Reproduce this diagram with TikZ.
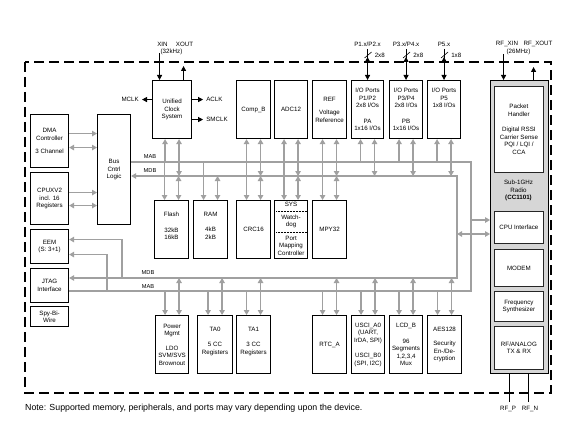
\documentclass[tikz,border=0pt]{standalone}
\usepackage{fontspec}
\setmainfont{Liberation Sans}
\usetikzlibrary{arrows.meta,calc}
\definecolor{busgray}{RGB}{160,160,160}
\definecolor{radiogray}{RGB}{214,214,214}
\tikzset{
  gtip/.tip={Triangle[length=5pt,width=5.5pt]},
  ktip/.tip={Triangle[length=5pt,width=5pt]},
}
\begin{document}
\begin{tikzpicture}[x=1pt,y=-1pt,
  font=\fontsize{6.2}{7.5}\selectfont,
  blk/.style={draw=black,line width=1.1pt,fill=white,inner sep=0pt,align=center,anchor=north west},
  rblk/.style={draw=black!85,line width=0.8pt,fill=white,inner sep=0pt,align=center,anchor=north west,minimum width=49pt},
  txt/.style={inner sep=0pt,align=center},
  bus/.style={draw=busgray,line width=1.8pt},
  barrow/.style={bus,-gtip},
  bdarrow/.style={bus,gtip-gtip},
  kline/.style={draw=black,line width=1pt},
]
\useasboundingbox (0,0) rectangle (561,422);
\fill[white] (0,0) rectangle (561,422);
\draw[line width=1.6pt,dash pattern=on 10pt off 5pt] (25,62) rectangle (551,393);

% left column
\node[blk,minimum width=38pt,minimum height=53pt] (dma) at (30,114) {DMA\\Controller\\[6pt]3 Channel};
\node[blk,minimum width=33pt,minimum height=110pt] (bus) at (97,114) {Bus\\Cntrl\\Logic};
\node[blk,minimum width=38pt,minimum height=52pt] (cpu) at (30,172) {CPUXV2\\incl. 16\\Registers};
\node[blk,minimum width=38pt,minimum height=34pt] (eem) at (30,229) {EEM\\(S: 3+1)};
\node[blk,minimum width=38pt,minimum height=34pt] (jtag) at (30,268) {JTAG\\Interface};
\node[blk,minimum width=38pt,minimum height=20pt] (spy) at (30,306) {Spy-Bi-\\Wire};

% top row
\node[blk,minimum width=39pt,minimum height=58pt] (clk) at (152,80) {Unified\\Clock\\System};
\node[blk,minimum width=34pt,minimum height=58pt] (compb) at (236,80) {Comp\_B};
\node[blk,minimum width=33pt,minimum height=58pt] (adc) at (274,80) {ADC12};
\node[blk,minimum width=34pt,minimum height=58pt] (ref) at (312,80) {REF\\[6pt]Voltage\\Reference};
\node[blk,minimum width=32pt,minimum height=58pt] (pa) at (351,80) {I/O Ports\\P1/P2\\2x8 I/Os\\[8pt]PA\\1x16 I/Os};
\node[blk,minimum width=33pt,minimum height=58pt] (pb) at (389,80) {I/O Ports\\P3/P4\\2x8 I/Os\\[8pt]PB\\1x16 I/Os};
\node[blk,minimum width=33pt,minimum height=58pt] (p5) at (427,80) {I/O Ports\\P5\\1x8 I/Os\\[8pt]\phantom{PA}\\\phantom{1x16 I/Os}};

% middle row
\node[blk,minimum width=34pt,minimum height=58pt] (flash) at (154,200) {Flash\\[8pt]32kB\\16kB\\\phantom{x}};
\node[blk,minimum width=34pt,minimum height=58pt] (ram) at (193,200) {RAM\\[8pt]4kB\\2kB\\\phantom{x}};
\node[blk,minimum width=34pt,minimum height=58pt] (crc) at (236,200) {CRC16};
\node[blk,minimum width=33pt,minimum height=58pt] (sys) at (274,200) {};
\node[blk,minimum width=34pt,minimum height=58pt] (mpy) at (312,200) {MPY32};
\node[txt] (sysa) at ($(sys.north)+(0,4.5)$) {SYS};
\draw[densely dotted,line width=0.5pt] ($(sys.north west)+(2,11)$) -- ($(sys.north east)+(-2,11)$);
\node[txt] (sysb) at ($(sys.north)+(0,21.5)$) {Watch-\\dog};
\draw[densely dotted,line width=0.5pt] ($(sys.north west)+(2,32)$) -- ($(sys.north east)+(-2,32)$);
\node[txt] (sysc) at ($(sys.north)+(0,45.5)$) {Port\\Mapping\\Controller};

% bottom row
\node[blk,minimum width=33pt,minimum height=58pt] (pwr) at (155,315) {Power\\Mgmt\\[7pt]LDO\\SVM/SVS\\Brownout};
\node[blk,minimum width=35pt,minimum height=58pt] (ta0) at (197,315) {TA0\\[8pt]5 CC\\Registers\\\phantom{x}};
\node[blk,minimum width=34pt,minimum height=58pt] (ta1) at (236,315) {TA1\\[8pt]3 CC\\Registers\\\phantom{x}};
\node[blk,minimum width=34pt,minimum height=58pt] (rtc) at (312,315) {RTC\_A};
\node[blk,minimum width=33pt,minimum height=58pt] (usci) at (351,315) {USCI\_A0\\(UART,\\IrDA, SPI)\\[8pt]USCI\_B0\\(SPI, I2C)};
\node[blk,minimum width=33pt,minimum height=58pt] (lcd) at (389,315) {LCD\_B\\[8pt]96\\Segments\\1,2,3,4\\Mux};
\node[blk,minimum width=34pt,minimum height=58pt] (aes) at (427,315) {AES128\\[7pt]Security\\En-/De-\\cryption};

% radio
\node[blk,fill=radiogray,minimum width=58pt,minimum height=293pt] (radio) at (490,80) {};
\node[rblk,minimum height=86pt] (ph) at (494,86) {Packet\\Handler\\[8pt]Digital RSSI\\Carrier Sense\\PQI / LQI /\\CCA};
\node[txt] (sub) at (518.5,190.5) {Sub-1GHz\\Radio\\\textbf{(CC1101)}};
\node[rblk,minimum height=32pt] (cpuif) at (494,211) {CPU Interface};
\node[rblk,minimum height=37pt] (modem) at (494,249) {MODEM};
\node[rblk,minimum height=30pt] (freq) at (494,291) {Frequency\\Synthesizer};
\node[rblk,minimum height=43pt] (rfa) at (494,326) {RF/ANALOG\\TX \& RX};

% buses
\coordinate (mabT) at (0,162);
\coordinate (mdbT) at (0,176);
\coordinate (mdbB) at (0,278);
\coordinate (mabB) at (0,291);
\coordinate (mabR) at (471,0);
\coordinate (mdbR) at (457,0);
\draw[bus] (bus.east |- mabT) -- (mabR |- mabT) -- (mabR |- mabB) -- (jtag.east |- mabB);
\draw[bdarrow] (bus.east |- mdbT) -- (mdbR |- mdbT) -- (mdbR |- mdbB) -- (jtag.east |- mdbB);
\node[txt,font=\fontsize{5.7}{6}\selectfont] (lmab1) at (150,157) {MAB};
\node[txt,font=\fontsize{5.7}{6}\selectfont] (lmdb1) at (150,171) {MDB};
\node[txt,font=\fontsize{5.7}{6}\selectfont] (lmdb2) at (148,273) {MDB};
\node[txt,font=\fontsize{5.7}{6}\selectfont] (lmab2) at (148,287) {MAB};

% DMA / CPU to bus logic
\draw[barrow] ([yshift=7.5pt]dma.east) -- ([yshift=7.5pt]dma.east -| bus.west);
\draw[bdarrow] ([yshift=-6.5pt]dma.east) -- ([yshift=-6.5pt]dma.east -| bus.west);
\draw[barrow] ([yshift=6pt]cpu.east) -- ([yshift=6pt]cpu.east -| bus.west);
\draw[bdarrow] ([yshift=-7pt]cpu.east) -- ([yshift=-7pt]cpu.east -| bus.west);

% EEM
\coordinate (e1) at (122,0);
\coordinate (e2) at (107,0);
\coordinate (eemA) at ([yshift=7pt]eem.east);
\coordinate (eemB) at ([yshift=-8pt]eem.east);
\draw[barrow] (e1 |- mdbB) -- (e1 |- eemA) -- (eemA);
\draw[barrow] (e2 |- mabB) -- (e2 |- eemB) -- (eemB);

% radio bus arrows
\coordinate (rA) at (490,220);
\coordinate (rB) at (490,234);
\draw[barrow] (mabR |- rA) -- (rA);
\draw[bdarrow] (mdbR |- rB) -- (rB);

% bus taps
\foreach \n in {clk,compb,adc,ref,pa,pb,p5}{
  \draw[barrow] ([xshift=-7pt]\n.south |- mabT) -- ([xshift=-7pt]\n.south);
  \draw[bdarrow] ([xshift=7pt]\n.south |- mdbT) -- ([xshift=7pt]\n.south);
}
\foreach \n in {flash,ram,crc,sys,mpy}{
  \draw[barrow] ([xshift=-7pt]\n.north |- mabT) -- ([xshift=-7pt]\n.north);
  \draw[bdarrow] ([xshift=7pt]\n.north |- mdbT) -- ([xshift=7pt]\n.north);
}
\foreach \n in {pwr,ta0,ta1,rtc,usci,lcd,aes}{
  \draw[barrow] ([xshift=-7pt]\n.north |- mabB) -- ([xshift=-7pt]\n.north);
  \draw[bdarrow] ([xshift=7pt]\n.north |- mdbB) -- ([xshift=7pt]\n.north);
}

% clock signals
\draw[kline,-ktip] ([xshift=-12.5pt,yshift=27pt]clk.north) -- ([xshift=-12.5pt]clk.north);
\draw[kline,-ktip] ([xshift=11.5pt]clk.north) -- ([xshift=11.5pt,yshift=14pt]clk.north);
\node[txt] (xin) at (162.5,44) {XIN};
\node[txt] (xout) at (184.5,44) {XOUT};
\node[txt] (x32) at (171.5,52) {(32kHz)};
\draw[kline,-ktip] ([yshift=10pt]clk.west) -- ([xshift=-10pt,yshift=10pt]clk.west);
\node[txt,anchor=east] (mclk) at ([xshift=-13pt,yshift=10pt]clk.west) {MCLK};
\draw[kline,-ktip] ([yshift=10pt]clk.east) -- ([xshift=11pt,yshift=10pt]clk.east);
\node[txt,anchor=west] (aclk) at ([xshift=14pt,yshift=10pt]clk.east) {ACLK};
\draw[kline,-ktip] ([yshift=-10pt]clk.east) -- ([xshift=11pt,yshift=-10pt]clk.east);
\node[txt,anchor=west] (smclk) at ([xshift=14pt,yshift=-10pt]clk.east) {SMCLK};

% ports
\foreach \n/\lab/\w in {pa/{P1.x/P2.x}/2x8,pb/{P3.x/P4.x}/2x8,p5/{P5.x}/1x8}{
  \draw[kline] ([yshift=31pt]\n.north) -- ([yshift=22pt]\n.north);
  \draw[kline,ktip-ktip] ([yshift=23pt]\n.north) -- (\n.north);
  \draw[black,line width=0.6pt] ([xshift=-3pt,yshift=22pt]\n.north) -- ([xshift=4pt,yshift=28pt]\n.north);
  \node[txt,anchor=west] at ([xshift=7pt,yshift=25pt]\n.north) {\w};
  \node[txt] at ([yshift=36pt]\n.north) {\lab};
}

% radio signals
\draw[kline,-ktip] ([xshift=-16pt,yshift=26pt]radio.north) -- ([xshift=-16pt]radio.north);
\draw[kline,-ktip] ([xshift=14pt]radio.north) -- ([xshift=14pt,yshift=13pt]radio.north);
\node[txt] (rfxin) at (507,44) {RF\_XIN};
\node[txt] (rfxout) at (538,44) {RF\_XOUT};
\node[txt] (r26) at (518.5,52) {(26MHz)};
\draw[kline] ([xshift=-10pt]radio.south) -- ([xshift=-10pt,yshift=-28pt]radio.south);
\draw[kline] ([xshift=9pt]radio.south) -- ([xshift=9pt,yshift=-28pt]radio.south);
\node[txt] (rfp) at (508,409) {RF\_P};
\node[txt] (rfn) at (530,409) {RF\_N};

\node[anchor=west,inner sep=0pt,font=\fontsize{8.8}{10}\selectfont] (note) at (25,408) {Note: Supported memory, peripherals, and ports may vary depending upon the device.};
\end{tikzpicture}
\end{document}
